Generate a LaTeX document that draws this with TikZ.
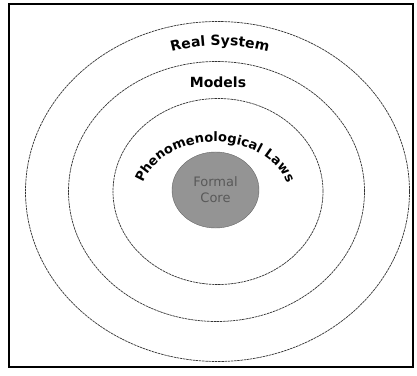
\documentclass[tikz,border=0pt]{standalone}
\usepackage{fontspec}
\setmainfont{DejaVu Sans}
\usepackage{xcolor}
\usepackage{tikz}
\usetikzlibrary{decorations.text,shapes.geometric}

\newcommand{\ringfont}{\fontsize{14}{16}\selectfont\bfseries}
\newcommand{\lawfont}{\fontsize{13}{15}\selectfont\bfseries}

\begin{document}
\begin{tikzpicture}[x=1pt, y=1pt,
  ring/.style={black!80, line width=0.7pt, dash pattern=on 2.5pt off 0.7pt},
  ringtext/.style={decorate, decoration={text along path, text align=center, text={#1}}}]
  \useasboundingbox (0,0) rectangle (417,375);
  % frame
  \draw[line width=1.2pt] (9,8) rectangle (413,371);
  % rings
  \draw[ring] (217.5,183.5) ellipse[x radius=192, y radius=170];
  \draw[ring] (216.5,183.5) ellipse[x radius=148, y radius=130];
  \draw[ring] (218,183.5) ellipse[x radius=105, y radius=93];
  % core
  \node[ellipse, draw=black!60, fill=black!42, minimum width=87, minimum height=76,
        inner sep=0pt, align=center, text=black!65, font=\fontsize{13}{16}\selectfont]
        (core) at (215.5,185) {Formal\\Core};
  % labels
  \path[ringtext={|\ringfont|Real System}] (220,183.5) ++(180:166 and 146) arc[start angle=180, end angle=0, x radius=166, y radius=146];
  \node[font=\ringfont] (models) at (218,293) {Models};
  \path[ringtext={|\lawfont|Phenomenological Laws}] (215,176) ++(180:75 and 57) arc[start angle=180, end angle=0, x radius=75, y radius=57];
\end{tikzpicture}
\end{document}
